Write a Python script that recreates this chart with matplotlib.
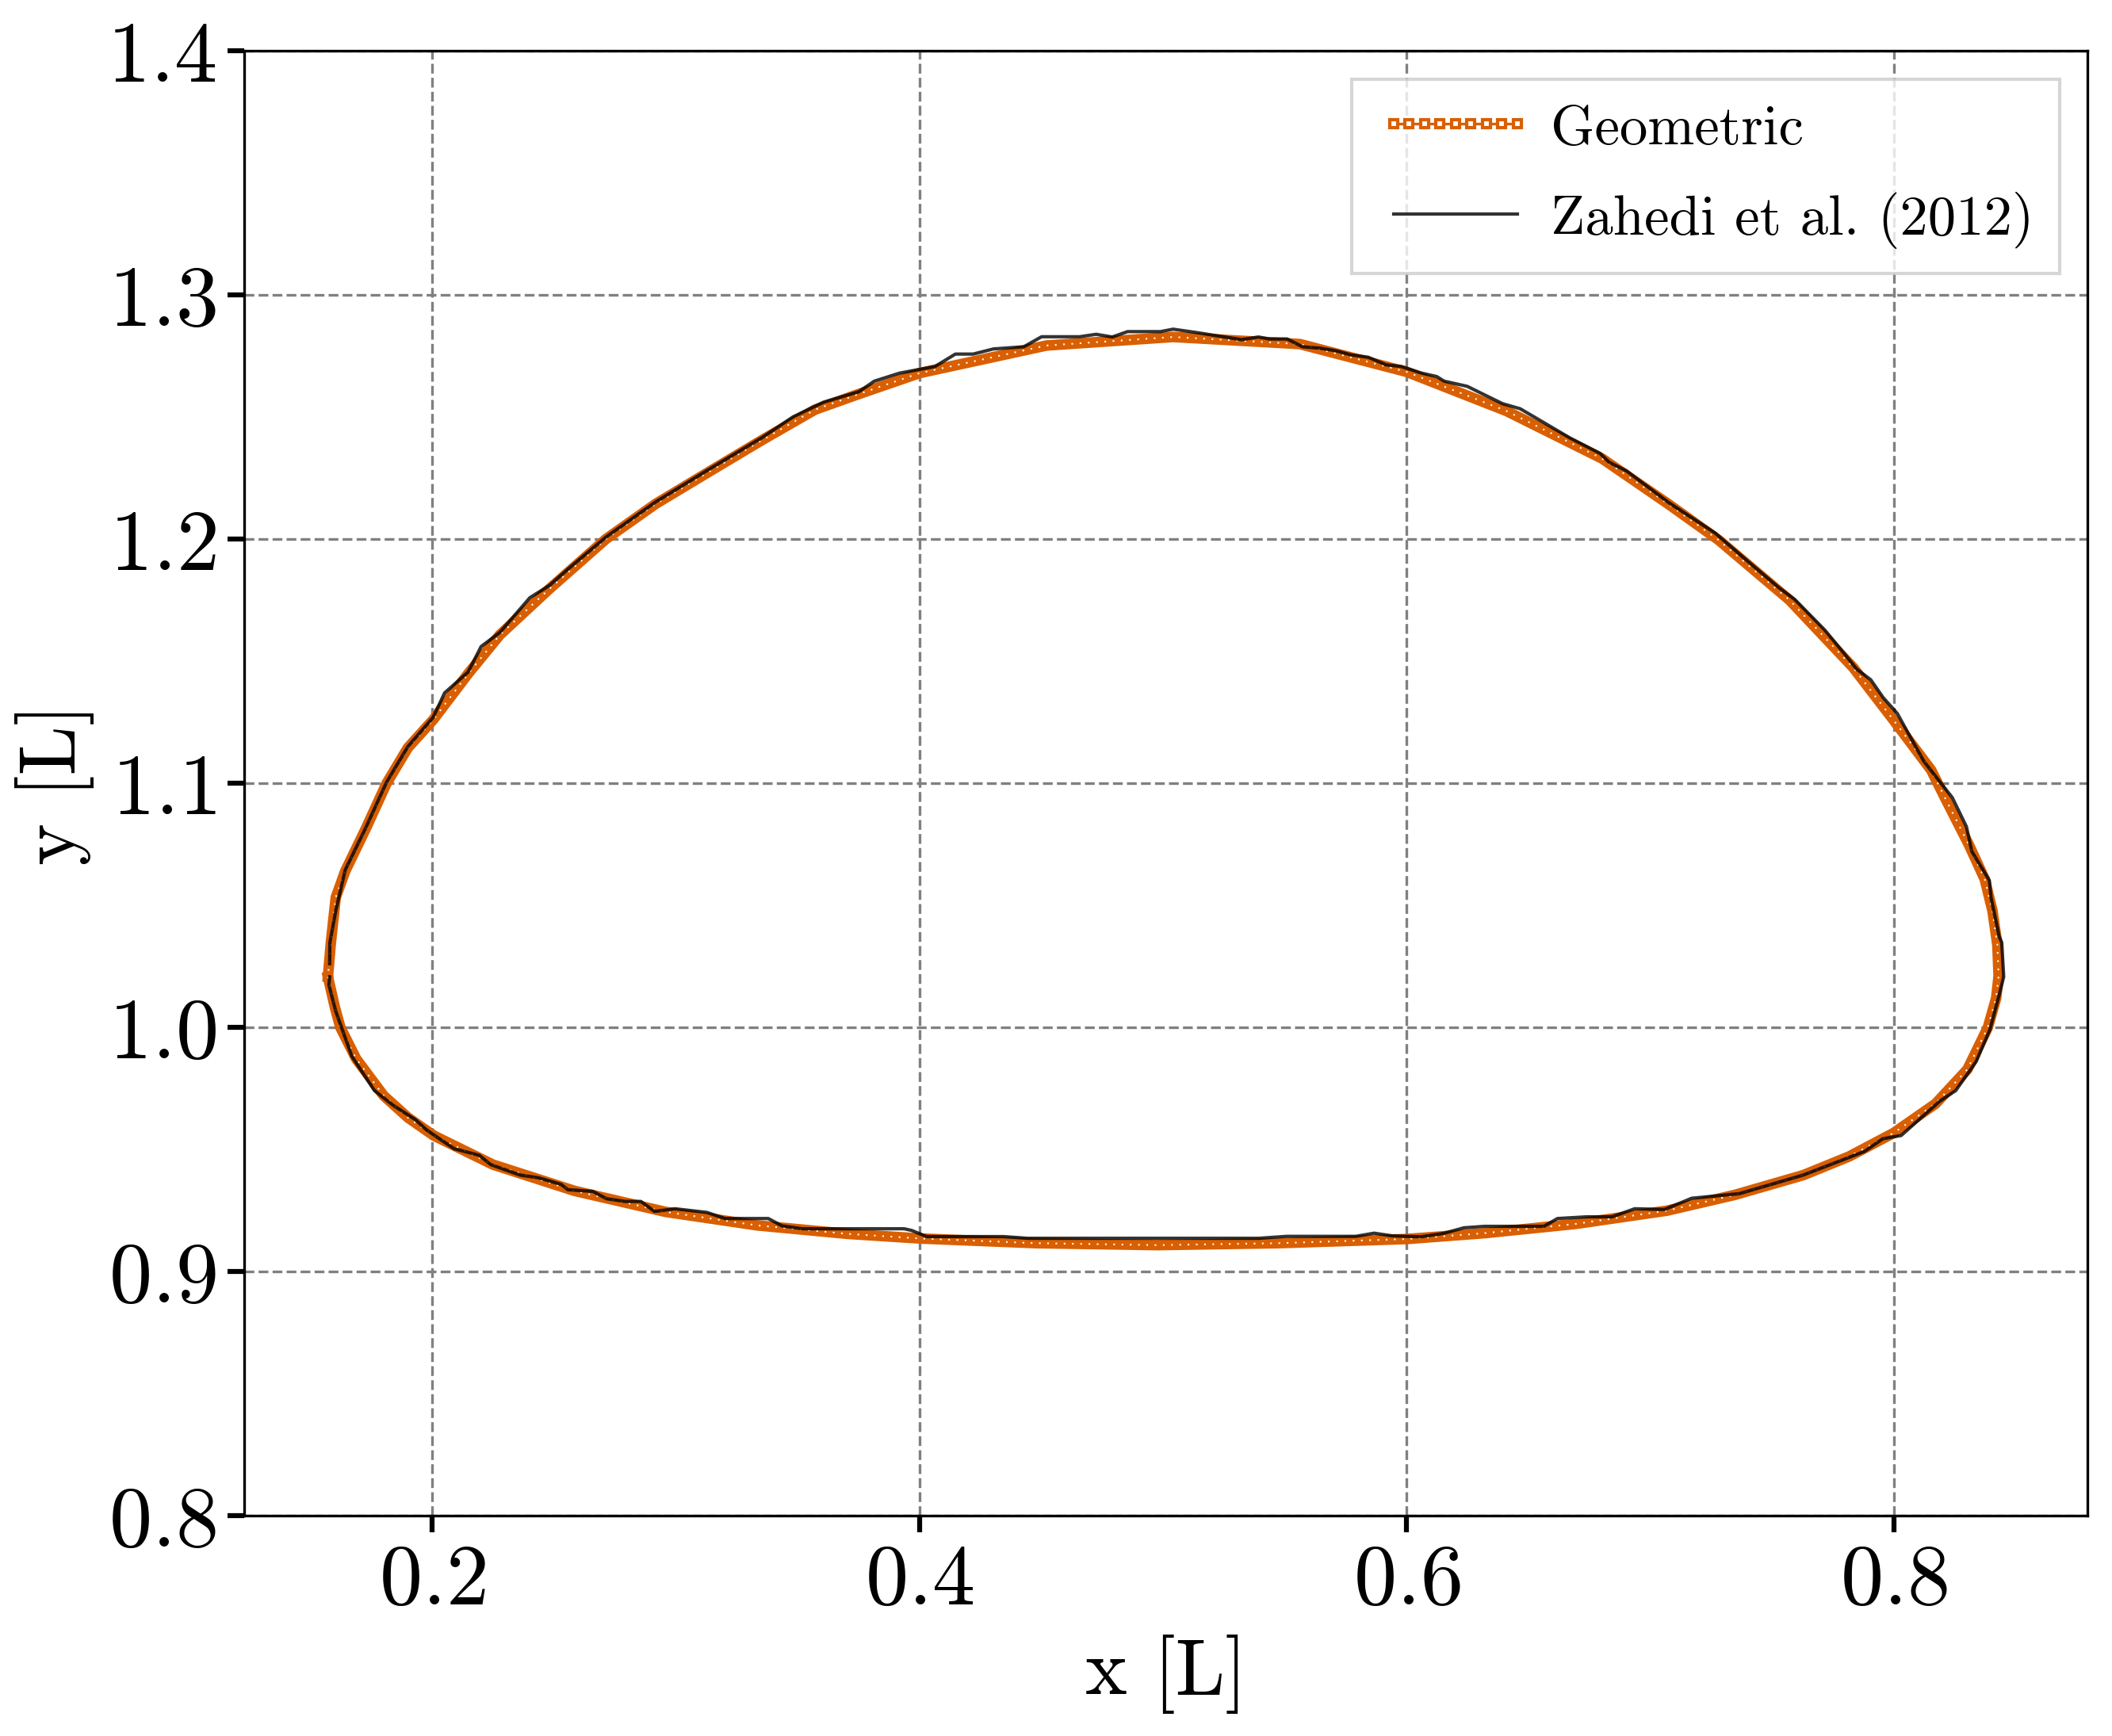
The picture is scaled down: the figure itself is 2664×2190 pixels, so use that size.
# ------------------------------------------------------ #
# Libraries
# ------------------------------------------------------ #
import matplotlib
matplotlib.use('Agg')
import matplotlib.pyplot as plt
from matplotlib.lines import Line2D

plt.rcParams['font.family'] = 'serif'
plt.rcParams['font.serif'] = ['cmr10']
plt.rcParams['mathtext.fontset'] = 'cm'
plt.rcParams['axes.unicode_minus'] = False
plt.rcParams['axes.formatter.use_mathtext'] = True

# ------------------------------------------------------ #
# Data
# ------------------------------------------------------ #
x_geo = [0.1571, 0.1600, 0.1622, 0.1687, 0.1800, 0.1900, 0.2005, 0.2248, 0.2584,
         0.2958, 0.3332, 0.3706, 0.4005, 0.4478, 0.4977, 0.5475, 0.6000, 0.6320,
         0.6694, 0.7068, 0.7348, 0.7629, 0.7816, 0.8000, 0.8171, 0.8302, 0.8386,
         0.8420, 0.8430, 0.8425, 0.8405, 0.8373, 0.8308, 0.8210, 0.8153, 0.8000,
         0.7833, 0.7572, 0.7281, 0.7078, 0.6802, 0.6409, 0.6000, 0.5561, 0.5041,
         0.4521, 0.4000, 0.3741, 0.3570, 0.3352, 0.3134, 0.2916, 0.2712, 0.2480,
         0.2277, 0.2146, 0.2003, 0.1899, 0.1812, 0.1725, 0.1642, 0.1603, 0.1583,
         0.1571]
y_geo = [1.0207, 1.0080, 1.0000, 0.9871, 0.9720, 0.9630, 0.9557, 0.9438, 0.9330,
         0.9244, 0.9189, 0.9154, 0.9135, 0.9116, 0.9108, 0.9116, 0.9133, 0.9157,
         0.9195, 0.9249, 0.9314, 0.9395, 0.9471, 0.9568, 0.9687, 0.9828, 1.0000,
         1.0120, 1.0210, 1.0337, 1.0477, 1.0607, 1.0748, 1.0940, 1.1054, 1.1257,
         1.1474, 1.1750, 1.1996, 1.2141, 1.2330, 1.2525, 1.2685, 1.2799, 1.2828,
         1.2793, 1.2680, 1.2591, 1.2530, 1.2405, 1.2275, 1.2144, 1.2000, 1.1796,
         1.1608, 1.1448, 1.1260, 1.1145, 1.1000, 1.0811, 1.0640, 1.0532, 1.0347,
         1.0207]

x_zah = [0.1578, 0.1575, 0.1603, 0.1669, 0.1762, 0.1837, 0.1930, 0.1977, 0.2089,
         0.2192, 0.2239, 0.2360, 0.2435, 0.2528, 0.2556, 0.2659, 0.2715, 0.2790,
         0.2856, 0.2912, 0.2996, 0.3127, 0.3201, 0.3379, 0.3435, 0.3519, 0.3937,
         0.3968, 0.4029, 0.4345, 0.4444, 0.5392, 0.5508, 0.5791, 0.5866, 0.5940,
         0.6057, 0.6151, 0.6235, 0.6319, 0.6563, 0.6619, 0.6740, 0.6843, 0.6936,
         0.7058, 0.7170, 0.7366, 0.7497, 0.7628, 0.7740, 0.7880, 0.7955, 0.8030,
         0.8189, 0.8254, 0.8338, 0.8394, 0.8432, 0.8451, 0.8443, 0.8432, 0.8399,
         0.8392, 0.8320, 0.8298, 0.8240, 0.8123, 0.8014, 0.7956, 0.7905, 0.7848,
         0.7789, 0.7717, 0.7593, 0.7528, 0.7397, 0.7266, 0.7078, 0.6903, 0.6831,
         0.6794, 0.6671, 0.6466, 0.6393, 0.6248, 0.6154, 0.6123, 0.6061, 0.5978,
         0.5915, 0.5842, 0.5770, 0.5707, 0.5645, 0.5572, 0.5509, 0.5436, 0.5391,
         0.5322, 0.5145, 0.5041, 0.4989, 0.4854, 0.4791, 0.4725, 0.4657, 0.4501,
         0.4428, 0.4303, 0.4220, 0.4147, 0.4063, 0.3918, 0.3814, 0.3751, 0.3606,
         0.3481, 0.3352, 0.3134, 0.2916, 0.2712, 0.2560, 0.2480, 0.2400, 0.2277,
         0.2200, 0.2146, 0.2050, 0.2003, 0.1899, 0.1812, 0.1725, 0.1642, 0.1603,
         0.1579, 0.1578]
y_zah = [1.0207, 1.0174, 1.0066, 0.9882, 0.9741, 0.9682, 0.9622, 0.9579, 0.9503,
         0.9476, 0.9438, 0.9395, 0.9384, 0.9357, 0.9335, 0.9328, 0.9298, 0.9287,
         0.9287, 0.9246, 0.9257, 0.9242, 0.9217, 0.9217, 0.9187, 0.9175, 0.9175,
         0.9168, 0.9143, 0.9143, 0.9136, 0.9136, 0.9144, 0.9144, 0.9157, 0.9146,
         0.9142, 0.9156, 0.9179, 0.9185, 0.9185, 0.9217, 0.9224, 0.9224, 0.9257,
         0.9254, 0.9300, 0.9319, 0.9357, 0.9395, 0.9438, 0.9492, 0.9544, 0.9557,
         0.9698, 0.9741, 0.9860, 0.9990, 1.0131, 1.0207, 1.0347, 1.0374, 1.0532,
         1.0602, 1.0721, 1.0822, 1.0941, 1.1090, 1.1286, 1.1351, 1.1424, 1.1467,
         1.1540, 1.1627, 1.1753, 1.1801, 1.1912, 1.2025, 1.2148, 1.2279, 1.2315,
         1.2351, 1.2414, 1.2534, 1.2555, 1.2626, 1.2647, 1.2666, 1.2680, 1.2707,
         1.2714, 1.2745, 1.2755, 1.2772, 1.2782, 1.2788, 1.2820, 1.2820, 1.2828,
         1.2817, 1.2845, 1.2860, 1.2850, 1.2850, 1.2828, 1.2839, 1.2829, 1.2829,
         1.2788, 1.2779, 1.2758, 1.2758, 1.2707, 1.2680, 1.2647, 1.2604, 1.2561,
         1.2501, 1.2415, 1.2285, 1.2152, 1.2008, 1.1880, 1.1810, 1.1760, 1.1618,
         1.1560, 1.1455, 1.1370, 1.1270, 1.1150, 1.1005, 1.0815, 1.0645, 1.0477,
         1.0347, 1.0261]

orange = '#d95f02'

# ------------------------------------------------------ #
# Plot
# ------------------------------------------------------ #
fig, ax = plt.subplots(figsize=(8.88, 7.303), dpi=300)
fig.subplots_adjust(left=0.1156, right=0.9884, bottom=0.1269, top=0.9703)

ax.plot(x_geo, y_geo, color=orange, lw=3.2, zorder=3)
ax.plot(x_geo, y_geo, color='white', lw=0.5, ls=(0, (1, 4)), zorder=3)
ax.plot(x_zah, y_zah, color='k', alpha=0.8, lw=1.0, zorder=4)

ax.set_ylim(0.8, 1.4)
ax.set_xticks([0.2, 0.4, 0.6, 0.8])
ax.set_yticks([0.8, 0.9, 1.0, 1.1, 1.2, 1.3, 1.4])
ax.grid(True, color='gray', ls='--', lw=0.8)
ax.set_axisbelow(True)
ax.tick_params(labelsize=26, length=5, width=1.5)
ax.set_xlabel('x [L]', fontsize=24)
ax.set_ylabel('y [L]', fontsize=24)

handles = [Line2D([], [], color=orange, lw=0.8, marker='s', markersize=2.2,
                  markerfacecolor='white', markeredgewidth=1.0),
           Line2D([], [], color='k', alpha=0.8, lw=1.0)]
ax.legend(handles, ['Geometric', 'Zahedi et al. (2012)'], loc='upper right',
          fontsize=17, numpoints=9, fancybox=False, edgecolor='0.8',
          handlelength=2.8, handletextpad=0.3, labelspacing=0.65,
          borderpad=0.45)

fig.savefig('out.png', dpi=300)
